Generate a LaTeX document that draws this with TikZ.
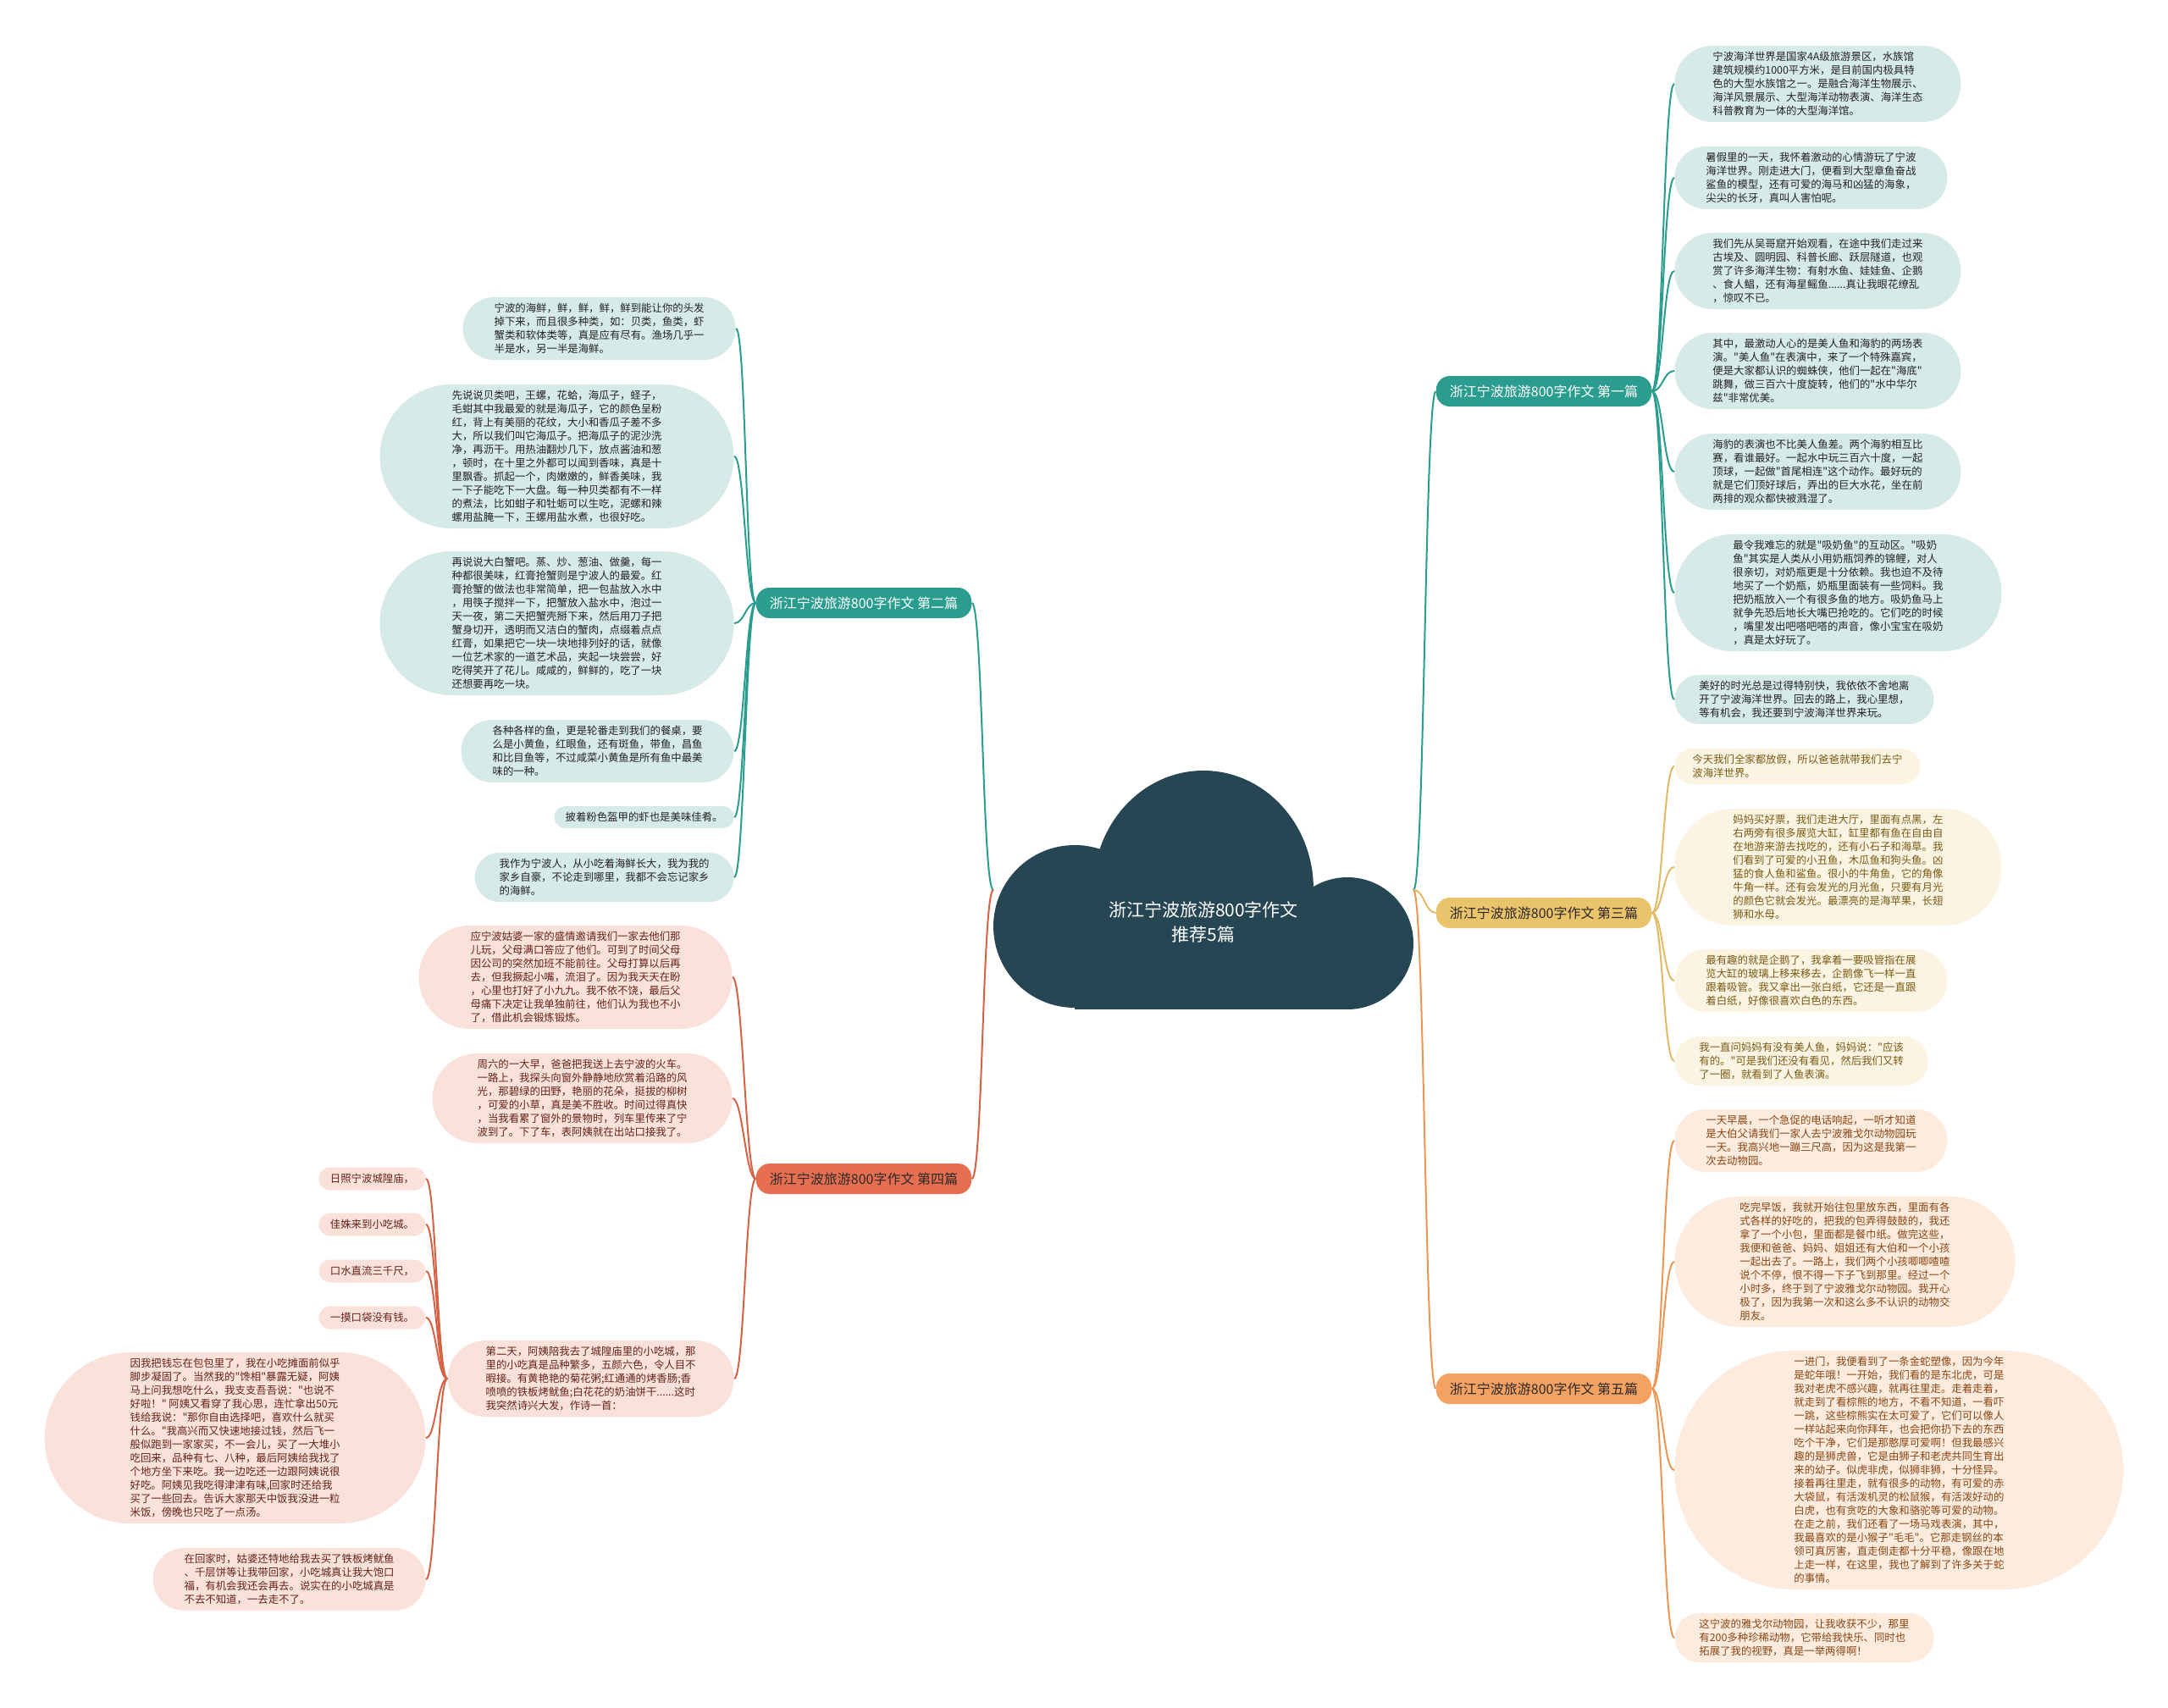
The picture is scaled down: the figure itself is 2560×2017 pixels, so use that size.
\documentclass[tikz,border=0pt]{standalone}
\usepackage{fontspec}
\newfontfamily\cjkfont{Noto Sans CJK SC}
\definecolor{cloudc}{RGB}{38,70,83}
\definecolor{tealc}{RGB}{42,157,143}
\definecolor{yelc}{RGB}{233,196,106}
\definecolor{yelline}{RGB}{224,186,100}
\definecolor{redc}{RGB}{231,111,81}
\definecolor{redline}{RGB}{214,98,70}
\definecolor{orac}{RGB}{244,162,97}
\definecolor{oraline}{RGB}{236,150,85}
\definecolor{tealfill}{RGB}{214,234,232}
\definecolor{yelfill}{RGB}{251,244,227}
\definecolor{redfill}{RGB}{250,226,218}
\definecolor{orafill}{RGB}{253,235,222}
\definecolor{tealtext}{RGB}{35,35,35}
\definecolor{yeltext}{RGB}{120,90,20}
\definecolor{redtext}{RGB}{100,35,25}
\definecolor{oratext}{RGB}{135,70,20}
\definecolor{labdark}{RGB}{45,40,40}
\tikzset{
  leafbase/.style={rectangle, inner xsep=#1, inner ysep=0pt, minimum height=2*#1, rounded corners=#1-0.05pt, align=left, font=\cjkfont\fontsize{6.2pt}{8pt}\selectfont},
  tleaf/.style={leafbase=#1, fill=tealfill, text=tealtext},
  yleaf/.style={leafbase=#1, fill=yelfill, text=yeltext},
  rleaf/.style={leafbase=#1, fill=redfill, text=redtext},
  oleaf/.style={leafbase=#1, fill=orafill, text=oratext},
  branchlab/.style={rounded corners=8pt, minimum height=18pt, inner xsep=8pt, inner ysep=0pt, font=\cjkfont\fontsize{8pt}{10pt}\selectfont},
  tconn/.style={line width=1pt, draw=tealc},
  yconn/.style={line width=1pt, draw=yelline},
  rconn/.style={line width=1pt, draw=redline},
  oconn/.style={line width=1pt, draw=oraline}
}
\begin{document}
\cjkfont
\begin{tikzpicture}[x=0.5pt,y=-0.5pt]
\useasboundingbox[fill=white] (0,0) rectangle (2560,2017);

% central cloud
\fill[cloudc] (1421,1050) ellipse [x radius=130, y radius=140];
\fill[cloudc] (1269,1094) circle [radius=96];
\fill[cloudc] (1591,1114) circle [radius=78];
\fill[cloudc] (1269,1050) rectangle (1591,1192);
\node[text=white, align=center, font=\cjkfont\fontsize{10.5pt}{14.5pt}\selectfont] (root) at (1421,1089) {浙江宁波旅游800字作文\\推荐5篇};
\coordinate (cl) at (1173,1051);
\coordinate (cr) at (1669,1051);

% branch labels
\node[branchlab, fill=tealc, text=white] (b1) at (1823,462) {浙江宁波旅游800字作文 第一篇};
\node[branchlab, fill=tealc, text=white] (b2) at (1020,712) {浙江宁波旅游800字作文 第二篇};
\node[branchlab, fill=yelc, text=labdark] (b3) at (1823,1078) {浙江宁波旅游800字作文 第三篇};
\node[branchlab, fill=redc, text=labdark] (b4) at (1020,1392) {浙江宁波旅游800字作文 第四篇};
\node[branchlab, fill=orac, text=labdark] (b5) at (1823,1640) {浙江宁波旅游800字作文 第五篇};

% branch 1 leaves
\node[tleaf=22.5pt, anchor=west] (r1a) at (1977,99) {宁波海洋世界是国家4A级旅游景区，水族馆\\
建筑规模约1000平方米，是目前国内极具特\\
色的大型水族馆之一。是融合海洋生物展示、\\
海洋风景展示、大型海洋动物表演、海洋生态\\
科普教育为一体的大型海洋馆。};
\node[tleaf=18.5pt, anchor=west] (r1b) at (1977,210) {暑假里的一天，我怀着激动的心情游玩了宁波\\
海洋世界。刚走进大门，便看到大型章鱼奋战\\
鲨鱼的模型，还有可爱的海马和凶猛的海象，\\
尖尖的长牙，真叫人害怕呢。};
\node[tleaf=22.5pt, anchor=west] (r1c) at (1977,320) {我们先从吴哥窟开始观看，在途中我们走过来\\
古埃及、圆明园、科普长廊、跃层隧道，也观\\
赏了许多海洋生物：有射水鱼、娃娃鱼、企鹅\\
、食人鲳，还有海星鳐鱼......真让我眼花缭乱\\
，惊叹不已。};
\node[tleaf=22.5pt, anchor=west] (r1d) at (1977,438) {其中，最激动人心的是美人鱼和海豹的两场表\\
演。"美人鱼"在表演中，来了一个特殊嘉宾，\\
便是大家都认识的蜘蛛侠，他们一起在"海底"\\
跳舞，做三百六十度旋转，他们的"水中华尔\\
兹"非常优美。};
\node[tleaf=22.5pt, anchor=west] (r1e) at (1977,557) {海豹的表演也不比美人鱼差。两个海豹相互比\\
赛，看谁最好。一起水中玩三百六十度，一起\\
顶球，一起做"首尾相连"这个动作。最好玩的\\
就是它们顶好球后，弄出的巨大水花，坐在前\\
两排的观众都快被溅湿了。};
\node[tleaf=34.5pt, anchor=west] (r1f) at (1977,700) {最令我难忘的就是"吸奶鱼"的互动区。"吸奶\\
鱼"其实是人类从小用奶瓶饲养的锦鲤，对人\\
很亲切，对奶瓶更是十分依赖。我也迫不及待\\
地买了一个奶瓶，奶瓶里面装有一些饲料。我\\
把奶瓶放入一个有很多鱼的地方。吸奶鱼马上\\
就争先恐后地长大嘴巴抢吃的。它们吃的时候\\
，嘴里发出吧嗒吧嗒的声音，像小宝宝在吸奶\\
，真是太好玩了。};
\node[tleaf=14.5pt, anchor=west] (r1g) at (1977,826) {美好的时光总是过得特别快，我依依不舍地离\\
开了宁波海洋世界。回去的路上，我心里想，\\
等有机会，我还要到宁波海洋世界来玩。};

% branch 2 leaves
\node[tleaf=18.5pt, anchor=east] (l2a) at (869,388) {宁波的海鲜，鲜，鲜，鲜，鲜到能让你的头发\\
掉下来，而且很多种类，如：贝类，鱼类，虾\\
蟹类和软体类等，真是应有尽有。渔场几乎一\\
半是水，另一半是海鲜。};
\node[tleaf=42.5pt, anchor=east] (l2b) at (867,539) {先说说贝类吧，王螺，花蛤，海瓜子，蛏子，\\
毛蚶其中我最爱的就是海瓜子，它的颜色呈粉\\
红，背上有美丽的花纹，大小和香瓜子差不多\\
大，所以我们叫它海瓜子。把海瓜子的泥沙洗\\
净，再沥干。用热油翻炒几下，放点酱油和葱\\
，顿时，在十里之外都可以闻到香味，真是十\\
里飘香。抓起一个，肉嫩嫩的，鲜香美味，我\\
一下子能吃下一大盘。每一种贝类都有不一样\\
的煮法，比如蚶子和牡蛎可以生吃，泥螺和辣\\
螺用盐腌一下，王螺用盐水煮，也很好吃。};
\node[tleaf=42.5pt, anchor=east] (l2c) at (867,736) {再说说大白蟹吧。蒸、炒、葱油、做羹，每一\\
种都很美味，红膏抢蟹则是宁波人的最爱。红\\
膏抢蟹的做法也非常简单，把一包盐放入水中\\
，用筷子搅拌一下，把蟹放入盐水中，泡过一\\
天一夜，第二天把蟹壳掰下来，然后用刀子把\\
蟹身切开，透明而又洁白的蟹肉，点缀着点点\\
红膏，如果把它一块一块地排列好的话，就像\\
一位艺术家的一道艺术品，夹起一块尝尝，好\\
吃得笑开了花儿。咸咸的，鲜鲜的，吃了一块\\
还想要再吃一块。};
\node[tleaf=18.5pt, anchor=east] (l2d) at (867,887) {各种各样的鱼，更是轮番走到我们的餐桌，要\\
么是小黄鱼，红眼鱼，还有斑鱼，带鱼，昌鱼\\
和比目鱼等，不过咸菜小黄鱼是所有鱼中最美\\
味的一种。};
\node[tleaf=6.5pt, anchor=east] (l2e) at (867,965) {披着粉色盔甲的虾也是美味佳肴。};
\node[tleaf=14.5pt, anchor=east] (l2f) at (867,1036) {我作为宁波人，从小吃着海鲜长大，我为我的\\
家乡自豪，不论走到哪里，我都不会忘记家乡\\
的海鲜。};

% branch 3 leaves
\node[yleaf=10.5pt, anchor=west] (r3a) at (1977,905) {今天我们全家都放假，所以爸爸就带我们去宁\\
波海洋世界。};
\node[yleaf=34.5pt, anchor=west] (r3b) at (1977,1024) {妈妈买好票，我们走进大厅，里面有点黑，左\\
右两旁有很多展览大缸，缸里都有鱼在自由自\\
在地游来游去找吃的，还有小石子和海草。我\\
们看到了可爱的小丑鱼，木瓜鱼和狗头鱼。凶\\
猛的食人鱼和鲨鱼。很小的牛角鱼，它的角像\\
牛角一样。还有会发光的月光鱼，只要有月光\\
的颜色它就会发光。最漂亮的是海苹果，长翅\\
狮和水母。};
\node[yleaf=18.5pt, anchor=west] (r3c) at (1977,1158) {最有趣的就是企鹅了，我拿着一要吸管指在展\\
览大缸的玻璃上移来移去，企鹅像飞一样一直\\
跟着吸管。我又拿出一张白纸，它还是一直跟\\
着白纸，好像很喜欢白色的东西。};
\node[yleaf=14.5pt, anchor=west] (r3d) at (1977,1253) {我一直问妈妈有没有美人鱼，妈妈说："应该\\
有的。"可是我们还没有看见，然后我们又转\\
了一圈，就看到了人鱼表演。};

% branch 4 leaves
\node[rleaf=30.5pt, anchor=east] (l4a) at (865,1154) {应宁波姑婆一家的盛情邀请我们一家去他们那\\
儿玩，父母满口答应了他们。可到了时间父母\\
因公司的突然加班不能前往。父母打算以后再\\
去，但我撅起小嘴，流泪了。因为我天天在盼\\
，心里也打好了小九九。我不依不饶，最后父\\
母痛下决定让我单独前往，他们认为我也不小\\
了，借此机会锻炼锻炼。};
\node[rleaf=26.5pt, anchor=east] (l4b) at (865,1297) {周六的一大早，爸爸把我送上去宁波的火车。\\
一路上，我探头向窗外静静地欣赏着沿路的风\\
光，那碧绿的田野，艳丽的花朵，挺拔的柳树\\
，可爱的小草，真是美不胜收。时间过得真快\\
，当我看累了窗外的景物时，列车里传来了宁\\
波到了。下了车，表阿姨就在出站口接我了。};
\node[rleaf=22.5pt, anchor=east] (l4c) at (867,1628) {第二天，阿姨陪我去了城隍庙里的小吃城，那\\
里的小吃真是品种繁多，五颜六色，令人目不\\
暇接。有黄艳艳的菊花粥;红通通的烤香肠;香\\
喷喷的铁板烤鱿鱼;白花花的奶油饼干......这时\\
我突然诗兴大发，作诗一首：};
\node[rleaf=6.75pt, anchor=east] (s1) at (503,1392) {日照宁波城隍庙，};
\node[rleaf=6.75pt, anchor=east] (s2) at (503,1446) {佳姝来到小吃城。};
\node[rleaf=6.75pt, anchor=east] (s3) at (503,1501) {口水直流三千尺，};
\node[rleaf=6.75pt, anchor=east] (s4) at (503,1556) {一摸口袋没有钱。};
\node[rleaf=50.5pt, anchor=east] (l4d) at (503,1698) {因我把钱忘在包包里了，我在小吃摊面前似乎\\
脚步凝固了。当然我的"馋相"暴露无疑，阿姨\\
马上问我想吃什么，我支支吾吾说："也说不\\
好啦！" 阿姨又看穿了我心思，连忙拿出50元\\
钱给我说："那你自由选择吧，喜欢什么就买\\
什么。"我高兴而又快速地接过钱，然后飞一\\
般似跑到一家家买，不一会儿，买了一大堆小\\
吃回来，品种有七、八种，最后阿姨给我找了\\
个地方坐下来吃。我一边吃还一边跟阿姨说很\\
好吃。阿姨见我吃得津津有味,回家时还给我\\
买了一些回去。告诉大家那天中饭我没进一粒\\
米饭，傍晚也只吃了一点汤。};
\node[rleaf=18.5pt, anchor=east] (l4e) at (503,1865) {在回家时，姑婆还特地给我去买了铁板烤鱿鱼\\
、千层饼等让我带回家，小吃城真让我大饱口\\
福，有机会我还会再去。说实在的小吃城真是\\
不去不知道，一去走不了。};

% branch 5 leaves
\node[oleaf=18.5pt, anchor=west] (r5a) at (1977,1347) {一天早晨，一个急促的电话响起，一听才知道\\
是大伯父请我们一家人去宁波雅戈尔动物园玩\\
一天。我高兴地一蹦三尺高，因为这是我第一\\
次去动物园。};
\node[oleaf=38.5pt, anchor=west] (r5b) at (1977,1490) {吃完早饭，我就开始往包里放东西，里面有各\\
式各样的好吃的，把我的包弄得鼓鼓的，我还\\
拿了一个小包，里面都是餐巾纸。做完这些，\\
我便和爸爸、妈妈、姐姐还有大伯和一个小孩\\
一起出去了。一路上，我们两个小孩唧唧喳喳\\
说个不停，恨不得一下子飞到那里。经过一个\\
小时多，终于到了宁波雅戈尔动物园。我开心\\
极了，因为我第一次和这么多不认识的动物交\\
朋友。};
\node[oleaf=70.5pt, anchor=west] (r5c) at (1977,1736) {一进门，我便看到了一条金蛇塑像，因为今年\\
是蛇年哦！一开始，我们看的是东北虎，可是\\
我对老虎不感兴趣，就再往里走。走着走着，\\
就走到了看棕熊的地方，不看不知道，一看吓\\
一跳，这些棕熊实在太可爱了，它们可以像人\\
一样站起来向你拜年，也会把你扔下去的东西\\
吃个干净，它们是那憨厚可爱啊！但我最感兴\\
趣的是狮虎兽，它是由狮子和老虎共同生育出\\
来的幼子。似虎非虎，似狮非狮，十分怪异。\\
接着再往里走，就有很多的动物，有可爱的赤\\
大袋鼠，有活泼机灵的松鼠猴，有活泼好动的\\
白虎，也有贪吃的大象和骆驼等可爱的动物。\\
在走之前，我们还看了一场马戏表演，其中，\\
我最喜欢的是小猴子"毛毛"。它那走钢丝的本\\
领可真厉害，直走倒走都十分平稳，像跟在地\\
上走一样，在这里，我也了解到了许多关于蛇\\
的事情。};
\node[oleaf=14.5pt, anchor=west] (r5d) at (1977,1934) {这宁波的雅戈尔动物园，让我收获不少，那里\\
有200多种珍稀动物，它带给我快乐、同时也\\
拓展了我的视野，真是一举两得啊！};

% trunk connectors
\draw[tconn] (cr) .. controls +(13,0) and +(-13,0) .. (b1.west);
\draw[yconn] (cr) .. controls +(13,0) and +(-13,0) .. (b3.west);
\draw[oconn] (cr) .. controls +(13,0) and +(-13,0) .. (b5.west);
\draw[tconn] (cl) .. controls +(-13,0) and +(13,0) .. (b2.east);
\draw[rconn] (cl) .. controls +(-13,0) and +(13,0) .. (b4.east);

% branch 1
\foreach \n in {r1a,r1b,r1c,r1d,r1e,r1f,r1g}
  \draw[tconn] (b1.east) .. controls +(13,0) and +(-13,0) .. (\n.west);
% branch 2
\foreach \n in {l2a,l2b,l2c,l2d,l2e,l2f}
  \draw[tconn] (b2.west) .. controls +(-12,0) and +(12,0) .. (\n.east);
% branch 3
\foreach \n in {r3a,r3b,r3c,r3d}
  \draw[yconn] (b3.east) .. controls +(13,0) and +(-13,0) .. (\n.west);
% branch 4
\foreach \n in {l4a,l4b,l4c}
  \draw[rconn] (b4.west) .. controls +(-12,0) and +(12,0) .. (\n.east);
\foreach \n in {s1,s2,s3,s4,l4d,l4e}
  \draw[rconn] (l4c.west) .. controls +(-12,0) and +(12,0) .. (\n.east);
% branch 5
\foreach \n in {r5a,r5b,r5c,r5d}
  \draw[oconn] (b5.east) .. controls +(13,0) and +(-13,0) .. (\n.west);
\end{tikzpicture}
\end{document}
